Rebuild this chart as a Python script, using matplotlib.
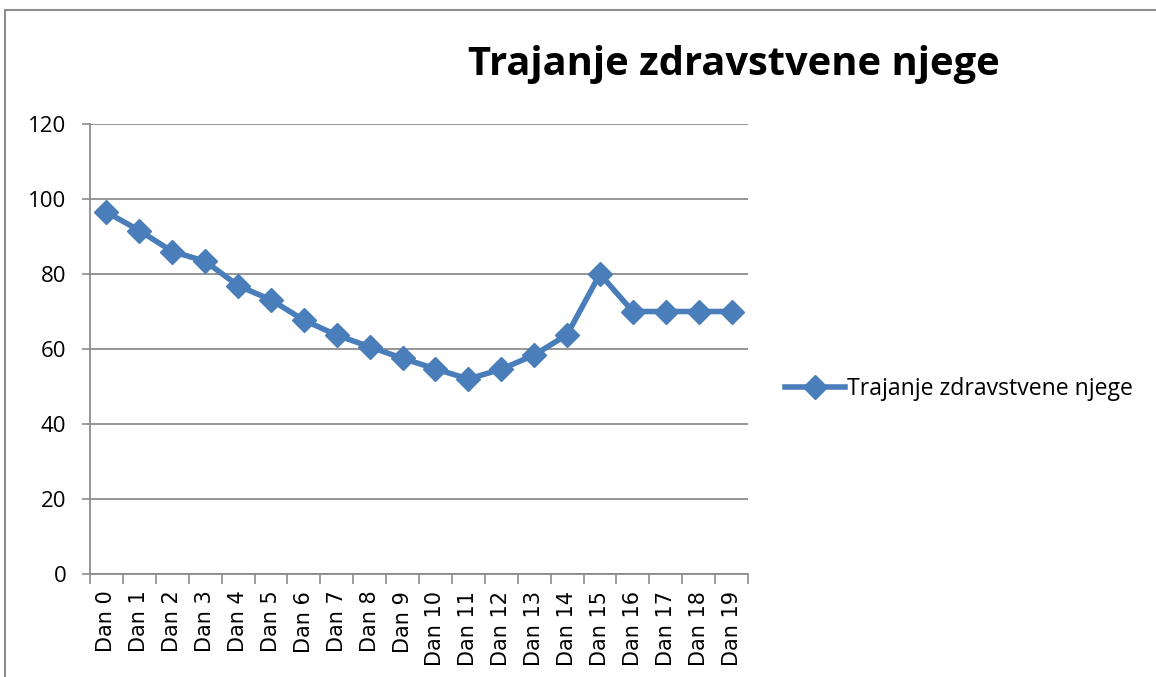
import matplotlib.pyplot as plt
from matplotlib.patches import Rectangle
from matplotlib.ticker import FixedLocator

# data
days = ["Dan %d" % d for d in range(20)]
care_hours = [96.5, 91.6, 86.0, 83.4, 76.9, 73.1, 67.7, 63.7, 60.6, 57.5,
              54.7, 52.0, 54.6, 58.4, 63.8, 80.0, 70.0, 70.0, 70.0, 70.0]
y_ticks = [0, 20, 40, 60, 80, 100, 120]
series_name = "Trajanje zdravstvene njege"

blue = "#4a7ebb"
grid_gray = "#8c8c8c"

fig = plt.figure(figsize=(11.56, 6.77), dpi=100)
ax = fig.add_axes([90 / 1156, 1 - 574 / 677, 658 / 1156, 450 / 677])

# outer chart border (partly visible in the original)
fig.patches.append(Rectangle((5 / 1156, -0.01), 1.2, 1 - 10 / 677 + 0.01,
                             transform=fig.transFigure, fill=False,
                             edgecolor="#8c8c8c", linewidth=1.5))

x = list(range(len(days)))
ax.plot(x, care_hours, color=blue, linewidth=4, marker="D",
        markersize=12, markeredgecolor=blue, label=series_name, zorder=3)

ax.set_xlim(-0.5, len(days) - 0.5)
ax.set_ylim(0, 120)
ax.set_yticks(y_ticks)
ax.set_yticklabels([str(v) for v in y_ticks], fontsize=16, family="Open Sans")
ax.tick_params(axis="y", length=6, width=1.2, color=grid_gray, pad=11)

ax.set_xticks(x)
ax.set_xticklabels(days, rotation=90, fontsize=15, family="DejaVu Sans")
ax.tick_params(axis="x", which="major", length=0, pad=12)
ax.xaxis.set_minor_locator(FixedLocator([i - 0.5 for i in range(len(days) + 1)]))
ax.tick_params(axis="x", which="minor", length=7, width=1.2, color=grid_gray)

ax.grid(axis="y", color=grid_gray, linewidth=1.3)
ax.set_axisbelow(True)
for s in ["top", "right"]:
    ax.spines[s].set_visible(False)
for s in ["left", "bottom"]:
    ax.spines[s].set_color(grid_gray)
    ax.spines[s].set_linewidth(1.3)

fig.text(734 / 1156, 1 - 65 / 677, series_name, ha="center", va="center",
         fontsize=28.7, fontweight="bold", family="Open Sans")

ax.legend(loc="center left", bbox_to_anchor=(785 / 1156, 1 - 389 / 677),
          bbox_transform=fig.transFigure, frameon=False, borderpad=0,
          borderaxespad=0, handlelength=2.6, handletextpad=0.1,
          prop={"family": "Open Sans", "size": 16.6})

fig.savefig("out.png", dpi=100)
